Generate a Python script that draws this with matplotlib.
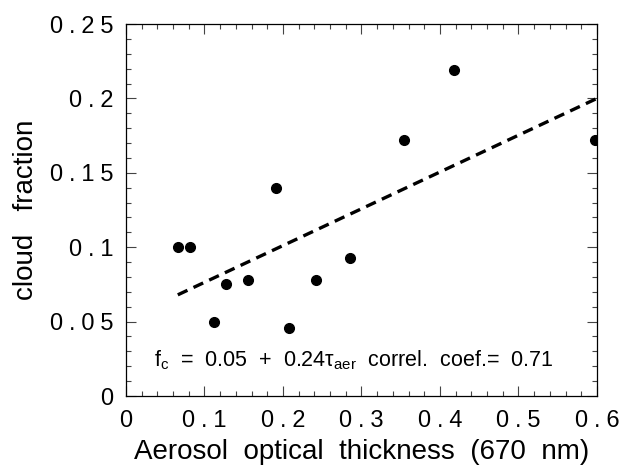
import matplotlib
matplotlib.use("Agg")
import matplotlib.pyplot as plt
from matplotlib.ticker import MultipleLocator, FuncFormatter

plt.rcParams['font.family'] = ['Liberation Sans', 'DejaVu Sans']
plt.rcParams['mathtext.fontset'] = 'custom'
plt.rcParams['mathtext.rm'] = 'Liberation Sans'
plt.rcParams['mathtext.it'] = 'Liberation Sans'
plt.rcParams['mathtext.default'] = 'regular'

aot = [0.066, 0.082, 0.112, 0.128, 0.155, 0.191, 0.208, 0.242, 0.286, 0.354, 0.418, 0.598]
cloud_frac = [0.100, 0.100, 0.050, 0.075, 0.078, 0.140, 0.046, 0.078, 0.093, 0.172, 0.219, 0.172]
fit_x = [0.066, 0.60]
fit_y = [0.068, 0.200]

x_ticks = [0, 0.1, 0.2, 0.3, 0.4, 0.5, 0.6]
y_ticks = [0, 0.05, 0.1, 0.15, 0.2, 0.25]

fig = plt.figure(figsize=(6.24, 4.71), dpi=100)
ax = fig.add_axes([0.2019, 0.1592, 0.7548, 0.7898])

ax.plot(fit_x, fit_y, color='black', lw=2.4, linestyle=(0, (3.2, 2.0)), dash_capstyle='butt')
ax.plot(aot, cloud_frac, 'o', color='black', ms=7, mec='black')

ax.set_xlim(0, 0.6)
ax.set_ylim(0, 0.25)
ax.set_xticks(x_ticks)
ax.set_yticks(y_ticks)
ax.xaxis.set_minor_locator(MultipleLocator(0.02))
ax.yaxis.set_minor_locator(MultipleLocator(0.01))

def fmt(v, pos):
    s = '%g' % round(v, 3)
    return '\u2005'.join(s)
ax.xaxis.set_major_formatter(FuncFormatter(fmt))
ax.yaxis.set_major_formatter(FuncFormatter(fmt))

ax.tick_params(which='both', direction='in', top=True, right=True, width=0.8, color='#444444')
ax.tick_params(which='major', length=7, labelsize=17)
ax.tick_params(axis='x', which='major', pad=10)
ax.tick_params(axis='y', which='major', pad=9)
ax.tick_params(which='minor', length=3.5)
for s in ax.spines.values():
    s.set_linewidth(0.9)

ax.set_xlabel('Aerosol  optical  thickness  (670  nm)', fontsize=20, labelpad=5)
ax.set_ylabel('cloud   fraction', fontsize=20)
ax.yaxis.set_label_coords(-0.185, 0.5)

ax.text(0.036, 0.0202, r'$f_c$  =  0.05  +  0.24$\tau_{aer}$  correl.  coef.=  0.71',
        fontsize=15.5, va='baseline', ha='left')

fig.savefig('out.png', dpi=100)
